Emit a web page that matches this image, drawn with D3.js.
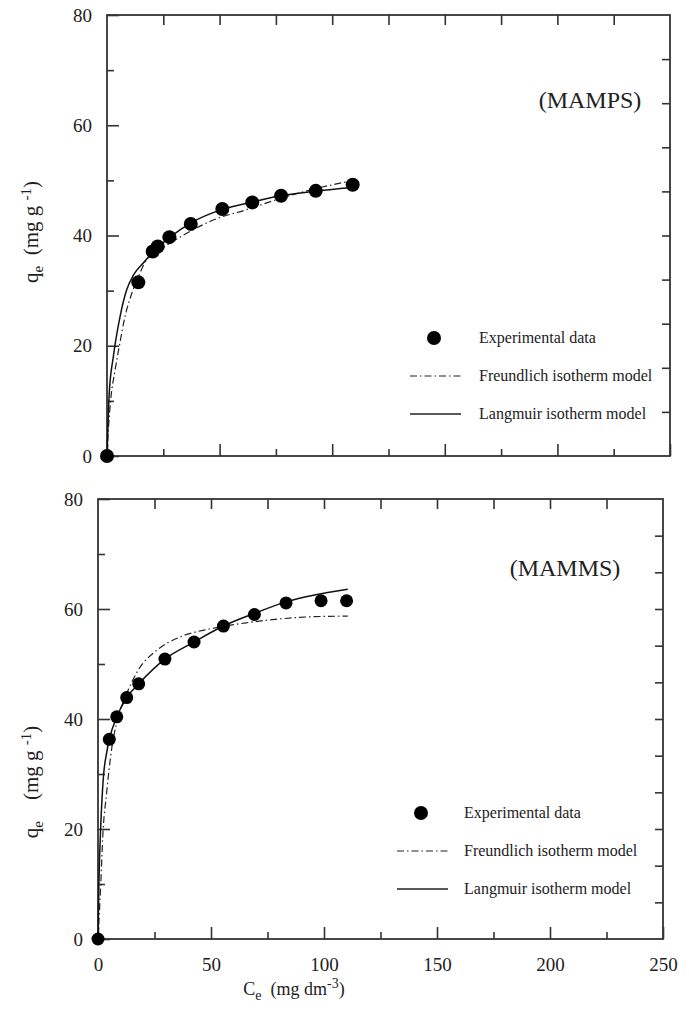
<!DOCTYPE html>
<html>
<head>
<meta charset="utf-8">
<script src="https://cdn.jsdelivr.net/npm/d3@7"></script>
<style>
  body { margin: 0; background: #fff; }
  svg text { font-family: 'Liberation Serif', 'Times New Roman', Times, 'DejaVu Serif', serif !important; fill: #222; }
</style>
</head>
<body>
<div id="chart"></div>
<script>
// ---- data: [Ce, qe] ----
const mampsExp = [[0, 0], [13.9, 31.5], [20.3, 37.1], [22.5, 38.0], [27.7, 39.7], [37.2, 42.1],
  [51.2, 44.8], [64.5, 46.0], [77.3, 47.2], [92.7, 48.1], [109.1, 49.2]];
const mampsLangmuir = [[0, 0], [1.0, 11.4], [2.8, 18.0], [5.8, 25.3], [8.7, 30.1], [11.7, 32.8],
  [16.1, 35.0], [22.1, 37.7], [28.0, 39.7], [36.9, 42.2], [50.2, 44.6], [65.0, 46.1],
  [76.8, 47.2], [91.6, 48.0], [109.1, 48.7]];
const mampsFreundlich = [[0, 0], [0.6, 4.7], [1.6, 10.0], [3.6, 15.6], [5.5, 20.0], [8.0, 25.3],
  [11.0, 29.5], [13.9, 32.5], [17.6, 35.6], [23.5, 37.4], [32.4, 39.7], [47.2, 42.8],
  [62.0, 44.7], [76.8, 46.7], [91.6, 48.4], [110.9, 50.1]];

const mammsExp = [[0, 0], [5.0, 36.3], [8.3, 40.4], [12.7, 43.9], [18.0, 46.4], [29.6, 50.9],
  [42.5, 54.0], [55.5, 56.9], [69.2, 59.0], [83.2, 61.1], [98.7, 61.5], [110.0, 61.5]];
const mammsLangmuir = [[0, 0], [0.4, 10.0], [1.2, 20.4], [2.4, 29.5], [3.8, 33.8], [5.0, 36.3],
  [8.3, 40.4], [12.7, 43.9], [18.0, 46.4], [29.6, 50.9], [42.5, 54.0], [55.5, 56.9],
  [69.2, 59.2], [83.2, 61.3], [95.3, 62.5], [110.5, 63.6]];
const mammsFreundlich = [[0, 0], [0.6, 4.7], [1.2, 9.8], [2.1, 18.6], [3.8, 26.5], [6.1, 34.7],
  [9.7, 41.3], [13.4, 45.3], [17.8, 48.9], [26.0, 52.5], [36.3, 54.9], [51.0, 56.5],
  [65.8, 57.5], [80.5, 58.2], [95.3, 58.6], [110.5, 58.7]];

const xTicks = [0, 50, 100, 150, 200, 250];
const yTicks = [0, 20, 40, 60, 80];
const legendLabels = ["Experimental data", "Freundlich isotherm model", "Langmuir isotherm model"];

const W = 689, H = 1020;
const serif = "'Liberation Serif', 'Times New Roman', Times, 'DejaVu Serif', serif";
const svg = d3.select("#chart").append("svg")
  .attr("width", W).attr("height", H)
  .style("font-family", serif);

const panels = [
  {name: "(MAMPS)", exp: mampsExp, lang: mampsLangmuir, freu: mampsFreundlich,
   left: 107, right: 670, top: 15, bottom: 456, rightTicks: 10, showX: false,
   title: [590, 108], legend: [434, 479, 338], r: 7, ylab: 232, gap: "\u00a0\u00a0"},
  {name: "(MAMMS)", exp: mammsExp, lang: mammsLangmuir, freu: mammsFreundlich,
   left: 98, right: 663, top: 499, bottom: 939, rightTicks: 12, showX: true,
   title: [565, 576], legend: [421, 464, 813], r: 6.5, ylab: 782, gap: "\u00a0\u00a0\u00a0\u00a0"}
];

const dashDot = "7,3,1.5,3";

panels.forEach(function (p) {
  const x = d3.scaleLinear().domain([0, 250]).range([p.left, p.right]);
  const y = d3.scaleLinear().domain([0, 80]).range([p.bottom, p.top]);
  const g = svg.append("g");

  // frame
  g.append("rect")
    .attr("x", p.left).attr("y", p.top)
    .attr("width", p.right - p.left).attr("height", p.bottom - p.top)
    .attr("fill", "none").attr("stroke", "#333").attr("stroke-width", 1.8);

  // bottom axis: major + minor ticks pointing inward
  const bx = g.append("g").attr("transform", `translate(0,${p.bottom})`)
    .call(d3.axisBottom(x).tickValues(xTicks).tickSize(-12).tickPadding(22)
      .tickFormat(p.showX ? d3.format("d") : ""));
  g.append("g").attr("transform", `translate(0,${p.bottom})`)
    .call(d3.axisBottom(x).tickValues([25, 75, 125, 175, 225]).tickSize(-7).tickFormat(""));

  // top axis ticks
  g.append("g").attr("transform", `translate(0,${p.top})`)
    .call(d3.axisTop(x).tickValues(d3.range(25, 250, 25)).tickSize(-10).tickFormat(""));

  // left axis
  g.append("g").attr("transform", `translate(${p.left},0)`)
    .call(d3.axisLeft(y).tickValues(yTicks).tickSize(-12).tickPadding(15));
  g.append("g").attr("transform", `translate(${p.left},0)`)
    .call(d3.axisLeft(y).tickValues([10, 30, 50, 70]).tickSize(-7).tickFormat(""));

  // right axis: evenly spaced ticks
  const rVals = d3.range(1, p.rightTicks).map(i => i * 80 / p.rightTicks);
  g.append("g").attr("transform", `translate(${p.right},0)`)
    .call(d3.axisRight(y).tickValues(rVals).tickSize(-8).tickFormat(""));

  g.selectAll(".domain").remove();
  g.selectAll("g").attr("font-family", null);
  g.selectAll(".tick line").attr("stroke", "#333").attr("stroke-width", 1.6);
  g.selectAll(".tick text").attr("font-size", 19).style("font-family", serif).attr("fill", "#222");
  bx.selectAll(".tick text").attr("dy", "0.5em");

  const line = d3.line().x(d => x(d[0])).y(d => y(d[1])).curve(d3.curveMonotoneX);

  g.append("path").datum(p.freu).attr("d", line)
    .attr("fill", "none").attr("stroke", "#222").attr("stroke-width", 1.2)
    .attr("stroke-dasharray", dashDot);
  g.append("path").datum(p.lang).attr("d", line)
    .attr("fill", "none").attr("stroke", "#111").attr("stroke-width", 1.5);

  g.selectAll("circle.pt").data(p.exp).enter().append("circle")
    .attr("class", "pt")
    .attr("cx", d => x(d[0])).attr("cy", d => y(d[1])).attr("r", p.r)
    .attr("fill", "#000");

  // panel title
  g.append("text").attr("x", p.title[0]).attr("y", p.title[1])
    .attr("text-anchor", "middle").attr("font-size", 24).style("font-family", serif).text(p.name);

  // legend
  const [lx, tx, ly] = p.legend;
  g.append("circle").attr("cx", lx).attr("cy", ly).attr("r", 7).attr("fill", "#000");
  g.append("line").attr("x1", lx - 24).attr("x2", lx + 27)
    .attr("y1", ly + 38).attr("y2", ly + 38)
    .attr("stroke", "#222").attr("stroke-width", 1.2).attr("stroke-dasharray", dashDot);
  g.append("line").attr("x1", lx - 24).attr("x2", lx + 27)
    .attr("y1", ly + 76).attr("y2", ly + 76)
    .attr("stroke", "#222").attr("stroke-width", 1.5);
  legendLabels.forEach(function (lab, i) {
    g.append("text").attr("x", tx).attr("y", ly + i * 38 + 5)
      .attr("font-size", 16).style("font-family", serif).text(lab);
  });

  // y axis label
  const yl = g.append("text")
    .attr("transform", `translate(38,${p.ylab}) rotate(-90)`)
    .attr("text-anchor", "middle").attr("font-size", 21).style("font-family", serif);
  yl.append("tspan").text("q");
  yl.append("tspan").attr("font-size", 15).attr("dy", 5).text("e");
  yl.append("tspan").attr("dy", -5).text(p.gap + "(mg g ");
  yl.append("tspan").attr("font-size", 15).attr("dy", -7).text("-1");
  yl.append("tspan").attr("dy", 7).text(")");

  if (p.showX) {
    const xl = g.append("text").attr("x", 294).attr("y", 995)
      .attr("text-anchor", "middle").attr("font-size", 18).style("font-family", serif);
    xl.append("tspan").text("C");
    xl.append("tspan").attr("font-size", 14).attr("dy", 5).text("e");
    xl.append("tspan").attr("dy", -5).text("\u00a0\u00a0(mg dm");
    xl.append("tspan").attr("font-size", 14).attr("dy", -7).text("-3");
    xl.append("tspan").attr("dy", 7).text(")");
  }
});
</script>
</body>
</html>
